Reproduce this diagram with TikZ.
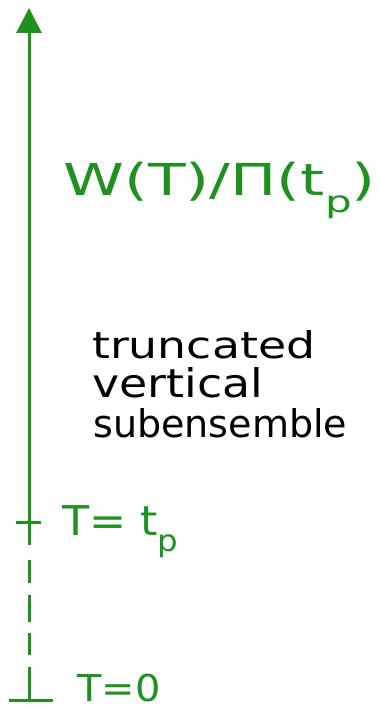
\documentclass[tikz,border=0pt]{standalone}
\usepackage{fontspec}
\setmainfont{DejaVu Sans}
\usepackage{graphicx}
\usetikzlibrary{arrows.meta}
\definecolor{pen}{RGB}{30,145,30}
\tikzset{
  axisline/.style={draw=pen,line width=3pt},
  lab/.style={text=pen,anchor=base west,inner sep=0pt},
  note/.style={text=black,anchor=base west,inner sep=0pt}
}
\begin{document}
\begin{tikzpicture}[x=1pt,y=-1pt]
\useasboundingbox (0,0) rectangle (377,711);
% axis points
\coordinate (top) at (29,8);
\coordinate (tp) at (29,522);
\coordinate (solidend) at (29,545);
\coordinate (zero) at (29,700);
% solid axis with arrow
\draw[axisline,-{Triangle[length=25pt,width=25pt]}] (solidend) -- (top);
% tick at t_p
\draw[axisline] ([xshift=-13pt]tp) -- ([xshift=12pt]tp);
% dashed part
\draw[axisline] (29,560) -- (29,583);
\draw[axisline] (29,595) -- (29,622);
\draw[axisline] (29,633) -- (29,655);
\draw[axisline] (29,667) -- (zero);
% base line at T=0
\draw[axisline] ([xshift=-20pt]zero) -- ([xshift=24pt]zero);
% labels
\node[lab] (wlab) at (63,196) {\fontsize{44}{44}\selectfont\scalebox{1.4}[1]{W(T)/Π(t\raisebox{-0.38em}{\fontsize{30}{30}\selectfont p})}};
\node[lab] (tplab) at (62,535) {\fontsize{41}{41}\selectfont\scalebox{1.08}[1]{T= t\raisebox{-0.4em}{\fontsize{30}{30}\selectfont p}}};
\node[lab] (zlab) at (77,701) {\fontsize{37}{37}\selectfont\scalebox{1.08}[1]{T=0}};
% note
\node[note] (n1) at (92,358) {\resizebox{223pt}{28pt}{truncated}};
\node[note] (n2) at (92,397) {\resizebox{171pt}{30pt}{vertical}};
\node[note] (n3) at (93,437) {\resizebox{254pt}{29pt}{subensemble}};
\end{tikzpicture}
\end{document}
